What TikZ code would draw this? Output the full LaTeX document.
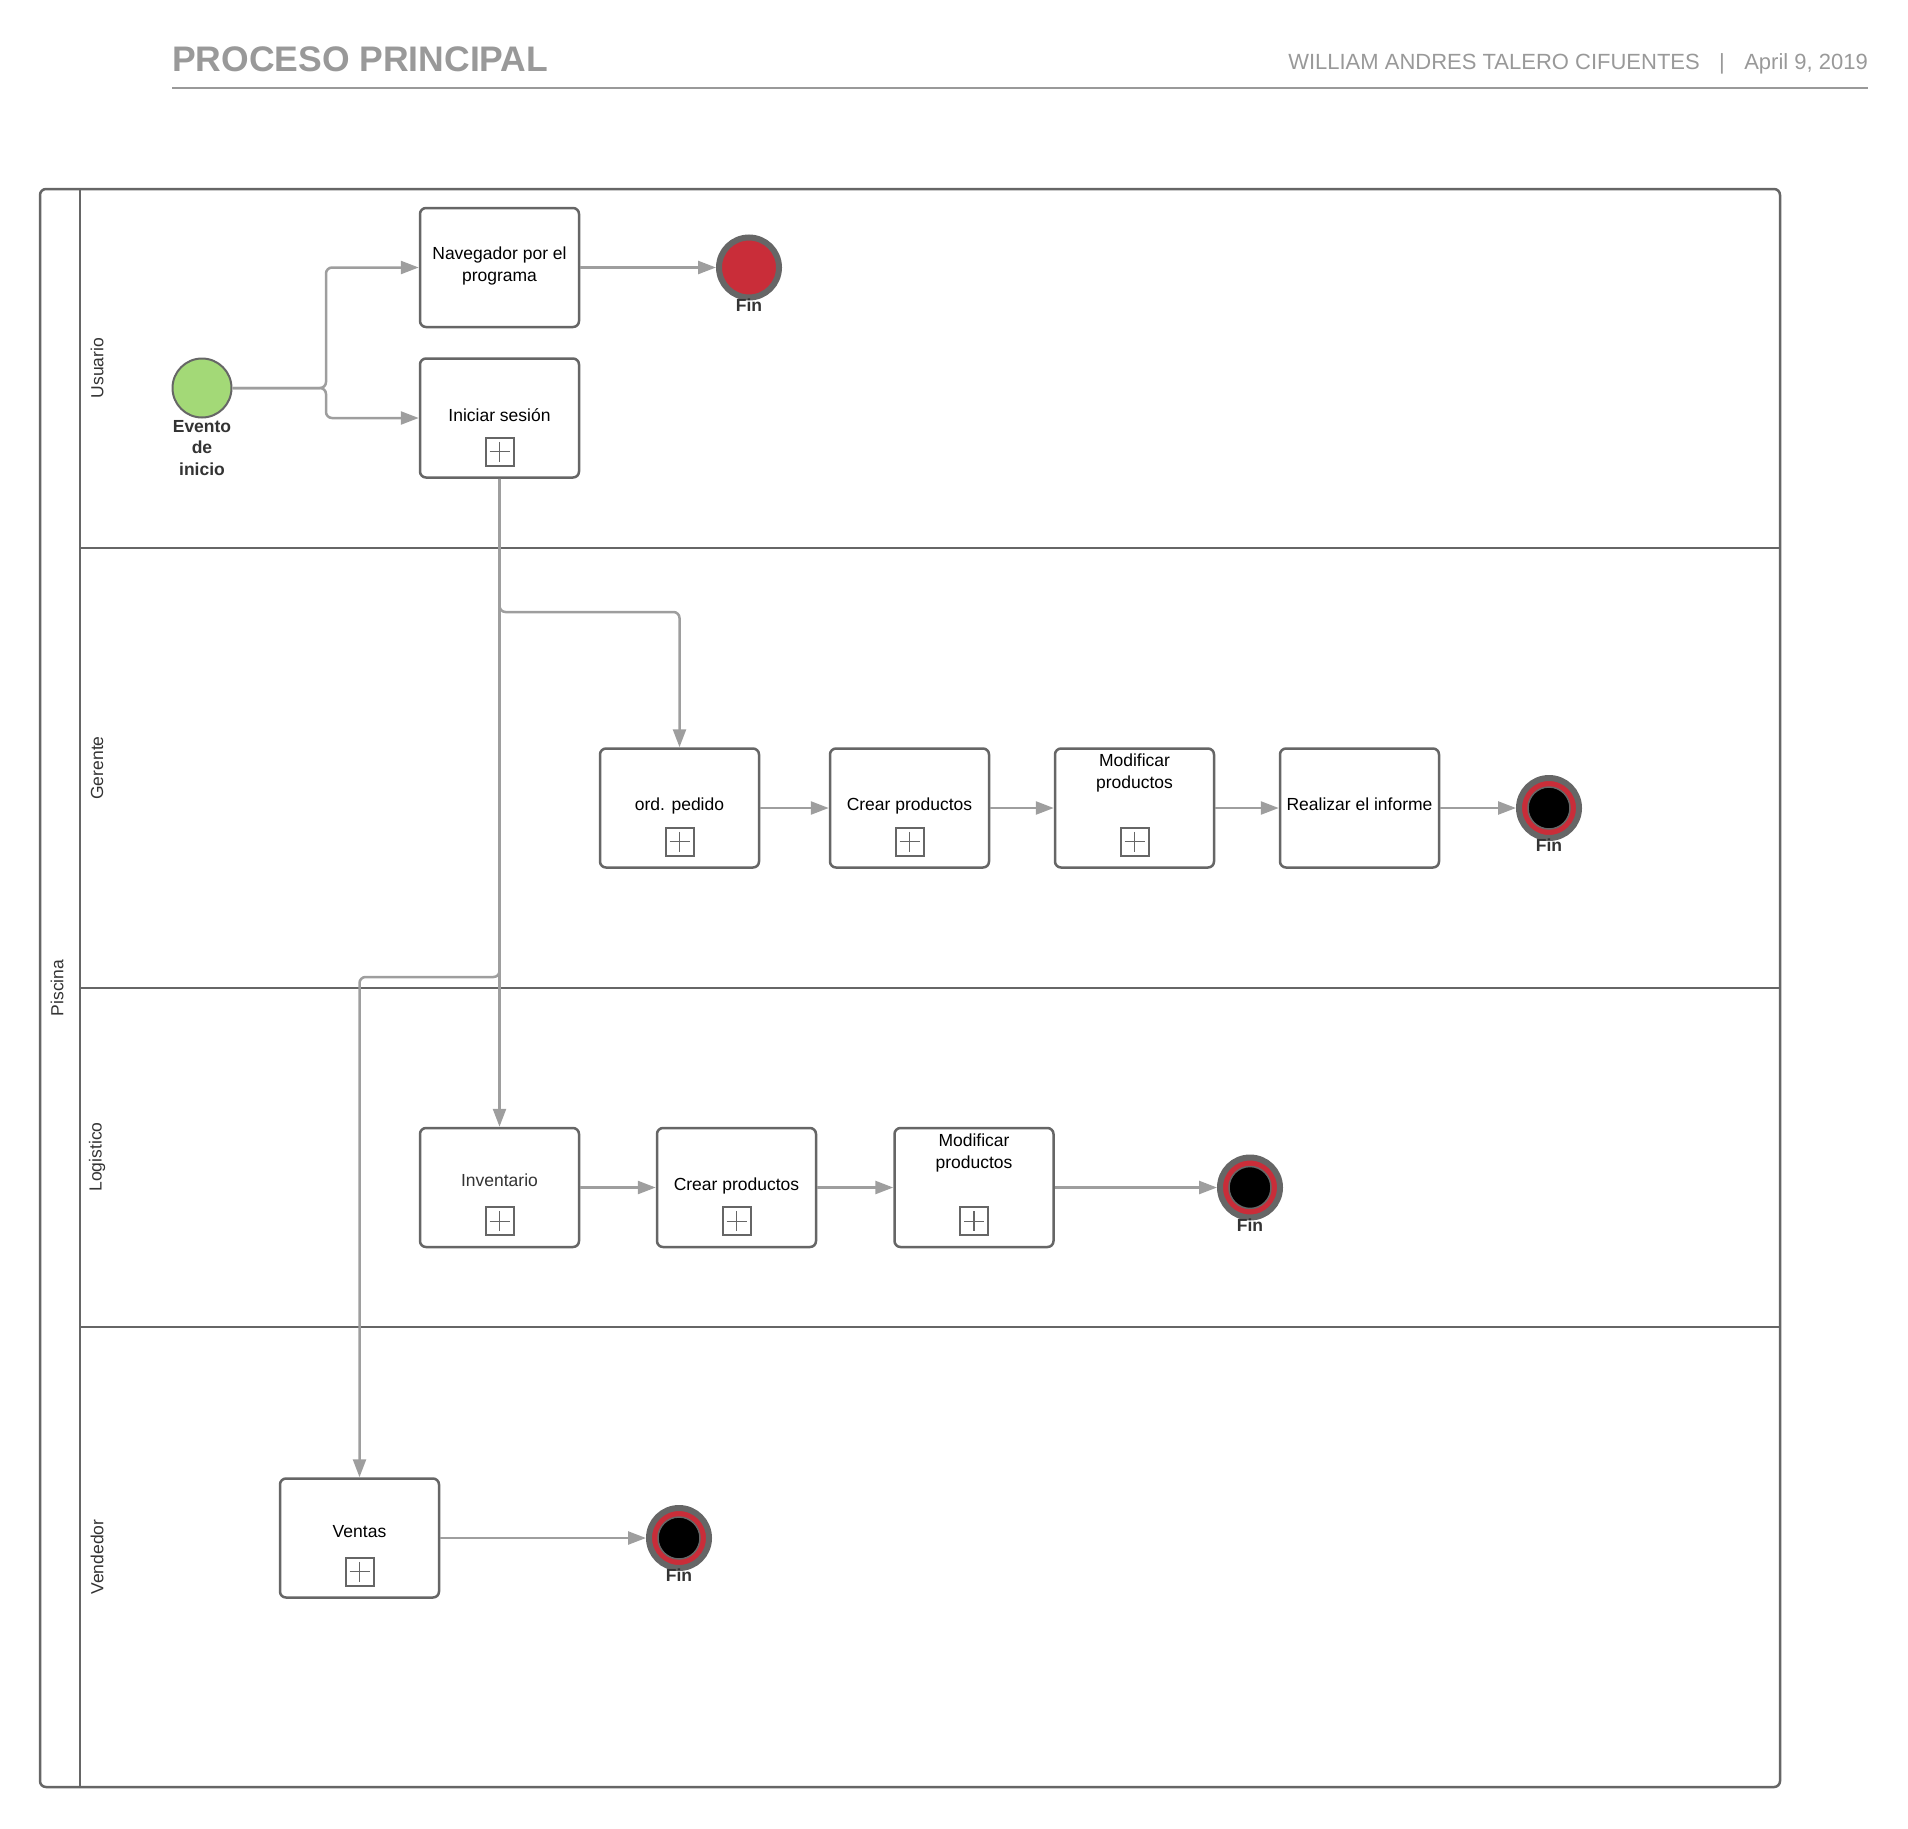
\documentclass[tikz,border=0pt]{standalone}
\usepackage{fontspec}
\setmainfont{Liberation Sans}
\usetikzlibrary{arrows.meta}
\definecolor{linegray}{HTML}{666666}
\definecolor{flowgray}{HTML}{9E9E9E}
\definecolor{headgray}{HTML}{999999}
\definecolor{textdark}{HTML}{333333}
\definecolor{startgreen}{HTML}{A3D977}
\definecolor{endred}{HTML}{C92D39}

\begin{document}
\begin{tikzpicture}[x=1pt,y=-1pt,
  task/.style={draw=linegray, line width=2.5pt, rounded corners=6pt, fill=white,
    minimum width=159pt, minimum height=119pt, inner sep=0pt},
  tasktext/.style={font=\fontsize{17.5}{22}\selectfont, align=center, text=black, inner sep=0pt},
  lanetext/.style={font=\fontsize{17.5}{21}\selectfont, text=textdark, rotate=90, inner sep=0pt},
  evlabel/.style={font=\bfseries\fontsize{17.5}{21.5}\selectfont, align=center, text=textdark, inner sep=0pt},
  flow/.style={draw=flowgray, line width=2.5pt, rounded corners=6pt,
    -{Triangle[length=18pt,width=13pt]}},
  startevent/.style={circle, draw=linegray, line width=2pt, fill=startgreen,
    minimum size=59pt, inner sep=0pt},
  endevent/.style={circle, draw=linegray, line width=6pt, fill=endred,
    minimum size=60pt, inner sep=0pt},
  termevent/.style={circle, draw=linegray, line width=6pt, fill=endred,
    minimum size=60pt, inner sep=0pt},
  plusbox/.pic={
    \draw[draw=linegray, line width=2pt, fill=white] (-14,-14) rectangle (14,14);
    \draw[draw=linegray, line width=1.3pt] (-10,0) -- (10,0) (0,-10) -- (0,10);
  },
  termcore/.pic={
    \draw[draw=linegray, line width=1.5pt, fill=black] (0,0) circle (21);
  }
]
\useasboundingbox (0,0) rectangle (1908,1828);

% header
\node[anchor=base west, inner sep=0pt, text=headgray,
  font=\bfseries\fontsize{35.5}{40}\selectfont] (title) at (172,71) {PROCESO PRINCIPAL};
\node[anchor=base east, inner sep=0pt, text=headgray,
  font=\fontsize{22}{26}\selectfont] (date) at (1868,69.5) {April 9, 2019};
\node[anchor=base, inner sep=0pt, text=headgray,
  font=\fontsize{22}{26}\selectfont] (sep) at (1722,69.5) {|};
\node[anchor=base east, inner sep=0pt, text=headgray,
  font=\fontsize{22}{26}\selectfont] (author) at (1700,69.5) {WILLIAM ANDRES TALERO CIFUENTES};
\draw[draw=headgray, line width=2.5pt] (172,88) -- (1868,88);

% pool and lanes
\draw[draw=linegray, line width=2.5pt, rounded corners=6pt] (40,189) rectangle (1780,1787);
\draw[draw=linegray, line width=2.5pt] (80,189) -- (80,1787);
\draw[draw=linegray, line width=2.5pt] (80,548) -- (1780,548);
\draw[draw=linegray, line width=2.5pt] (80,988) -- (1780,988);
\draw[draw=linegray, line width=2.5pt] (80,1327) -- (1780,1327);

\node[lanetext] (pool) at (57,988) {Piscina};
\node[lanetext] (lu) at (97,368) {Usuario};
\node[lanetext] (lg) at (97,768) {Gerente};
\node[lanetext] (ll) at (97,1157) {Logistico};
\node[lanetext] (lv) at (97,1557) {Vendedor};

% Usuario lane
\node[startevent] (start) at (202,388) {};
\node[evlabel] (startlbl) at (202,448) {Evento\\de\\inicio};
\node[task] (nav) at (499.5,267.5) {};
\node[tasktext] at (499.5,265.5) {Navegador por el\\programa};
\node[task] (ini) at (499.5,418) {};
\node[tasktext, anchor=base] at (499.5,421) {Iniciar sesión};
\pic at ([yshift=27pt]ini.south) {plusbox};
\node[endevent] (finu) at (749,267.5) {};
\node[evlabel, anchor=base] at (749,311) {Fin};

% Gerente lane
\node[task] (ord) at (679.5,808) {};
\node[tasktext, anchor=base] at (679.5,810) {ord. pedido};
\pic at ([yshift=27pt]ord.south) {plusbox};
\node[task] (crg) at (909.5,808) {};
\node[tasktext, anchor=base] at (909.5,810) {Crear productos};
\pic at ([yshift=27pt]crg.south) {plusbox};
\node[task] (modg) at (1134.5,808) {};
\node[tasktext] at (1134.5,772.5) {Modificar\\productos};
\pic at ([yshift=27pt]modg.south) {plusbox};
\node[task] (rea) at (1359.5,808) {};
\node[tasktext, anchor=base] at (1359.5,810) {Realizar el informe};
\node[termevent] (fing) at (1549,808) {};
\pic at (fing.center) {termcore};
\node[evlabel, anchor=base] at (1549,851.5) {Fin};

% Logistico lane
\node[task] (inv) at (499.5,1187.5) {};
\node[tasktext, anchor=base, text=textdark] at (499.5,1186) {Inventario};
\pic at ([yshift=27pt]inv.south) {plusbox};
\node[task] (crl) at (736.5,1187.5) {};
\node[tasktext, anchor=base] at (736.5,1190) {Crear productos};
\pic at ([yshift=27pt]crl.south) {plusbox};
\node[task] (modl) at (974,1187.5) {};
\node[tasktext] at (974,1152.5) {Modificar\\productos};
\pic at ([yshift=27pt]modl.south) {plusbox};
\node[termevent] (finl) at (1250,1187.5) {};
\pic at (finl.center) {termcore};
\node[evlabel, anchor=base] at (1250,1231) {Fin};

% Vendedor lane
\node[task] (ven) at (359.5,1538) {};
\node[tasktext, anchor=base] at (359.5,1537) {Ventas};
\pic at ([yshift=27pt]ven.south) {plusbox};
\node[termevent] (finv) at (679,1538) {};
\pic at (finv.center) {termcore};
\node[evlabel, anchor=base] at (679,1581.5) {Fin};

% routing points
\coordinate (split) at (326,388);
\coordinate (down1) at (499.5,612);
\coordinate (down2) at (499.5,977);

% sequence flows
\draw[flow] (start.east) -- (split) |- (nav.west);
\draw[flow] (start.east) -- (split) |- (ini.west);
\draw[flow] (nav.east) -- (finu.west);
\draw[flow] (ini.south) -- (down1) -| (ord.north);
\draw[flow] (ini.south) -- (inv.north);
\draw[flow] (ini.south) -- (down2) -| (ven.north);
\draw[flow] (ord.east) -- (crg.west);
\draw[flow] (crg.east) -- (modg.west);
\draw[flow] (modg.east) -- (rea.west);
\draw[flow] (rea.east) -- (fing.west);
\draw[flow] (inv.east) -- (crl.west);
\draw[flow] (crl.east) -- (modl.west);
\draw[flow] (modl.east) -- (finl.west);
\draw[flow] (ven.east) -- (finv.west);
\end{tikzpicture}
\end{document}
